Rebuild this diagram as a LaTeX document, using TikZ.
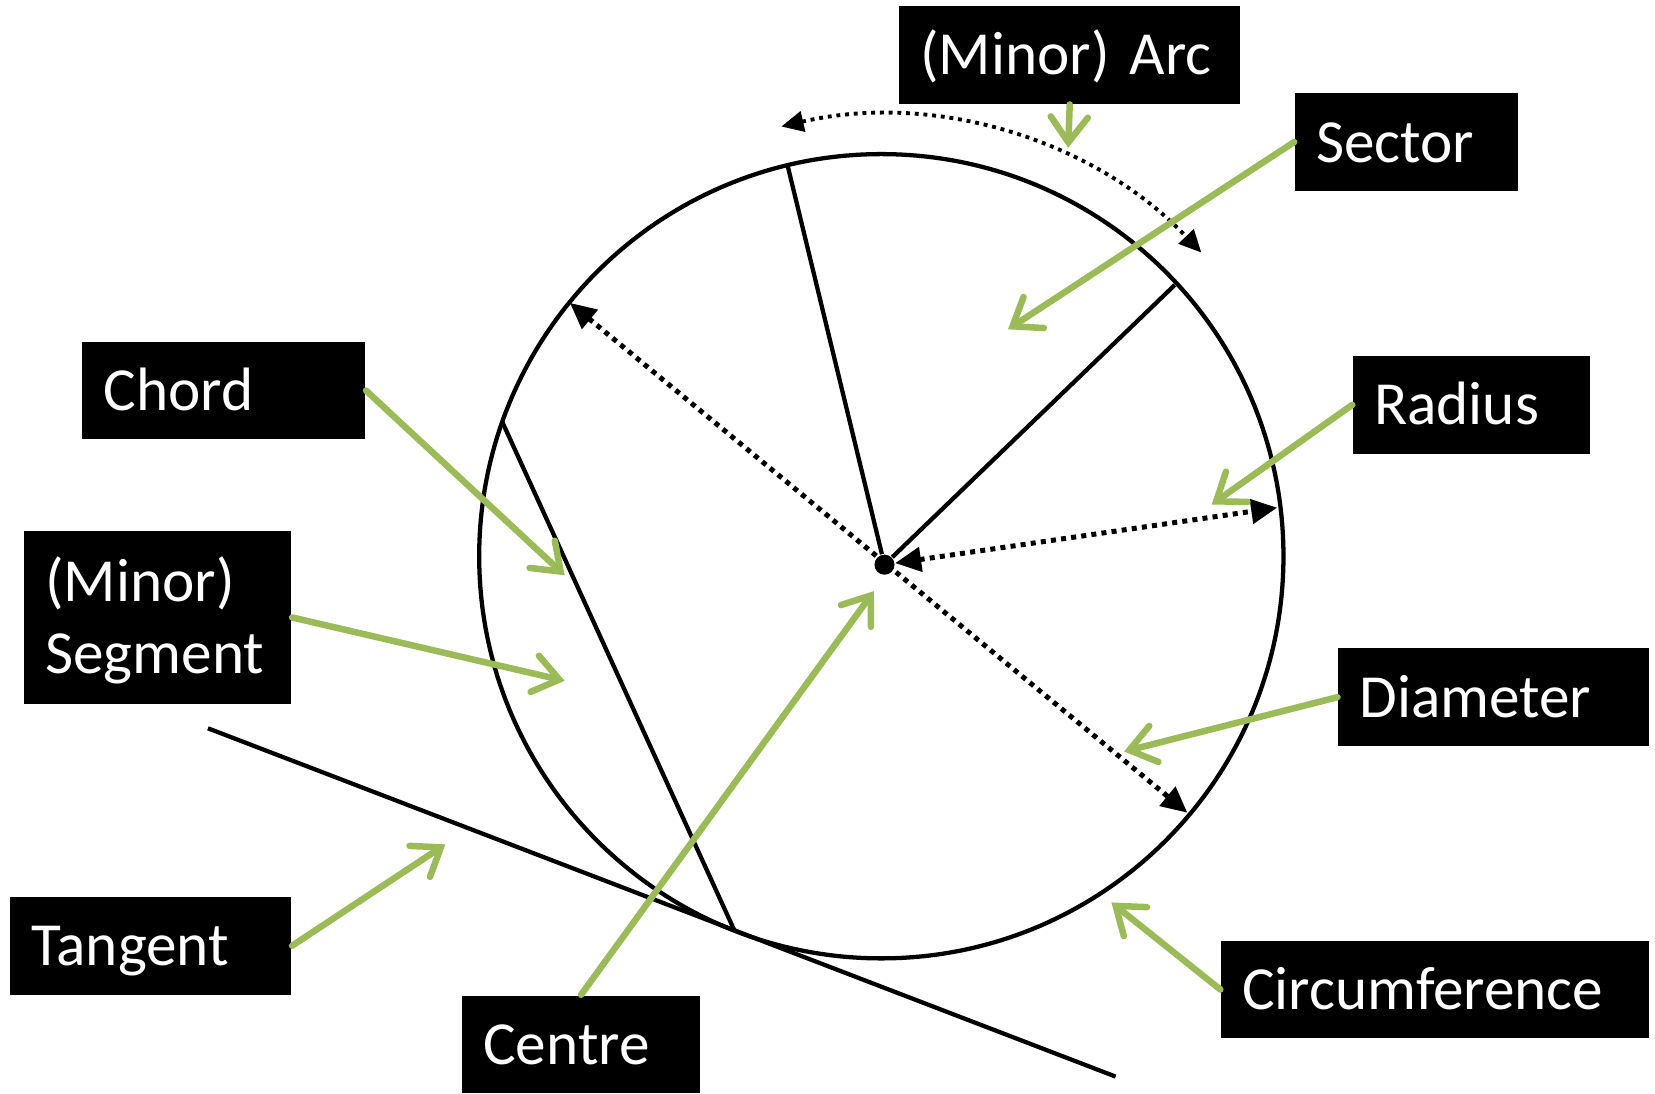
\documentclass[tikz,border=0pt]{standalone}
\usepackage{fontspec}
\setmainfont{Carlito}
\usetikzlibrary{arrows.meta}
\definecolor{lgreen}{HTML}{9BBB59}
\newcommand\lblfont{\fontsize{16.5pt}{19.35pt}\selectfont\spaceskip=0.18em plus 0.05em\relax}
\begin{document}
\begin{tikzpicture}[x=0.01cm,y=-0.01cm,
  lbl/.style={fill=black, text=white, font=\lblfont,
    inner xsep=0.2cm, inner ysep=0pt, align=left, minimum height=0.925cm,
    text height=10.8pt, text depth=0pt, text width=#1},
  garrow/.style={draw=lgreen, line width=1.75pt, line cap=round,
    -{Straight Barb[length=6.8pt, width=10pt, line cap=round]}},
  dotarrow/.style={line width=1.35pt, dash pattern=on 1.35pt off 1.4pt,
    {Triangle[length=7pt, width=6.5pt]}-{Triangle[length=7pt, width=6.5pt]}},
  arcdots/.style={line width=1.05pt, dash pattern=on 1.05pt off 1.3pt,
    {Triangle[length=6pt, width=5.5pt]}-{Triangle[length=6pt, width=5.5pt]}},
  solid line/.style={line width=1.15pt}
]
\useasboundingbox (0,0) rectangle (1568,1036);

% geometry
\coordinate (O) at (835,527);
\node[circle, fill=black, inner sep=0pt, minimum size=0.19cm] (c) at (838,535) {};
\coordinate (r1) at (746,156);
\coordinate (r2) at (1113,270);
\coordinate (ch1) at (476,400);
\coordinate (ch2) at (696,882);
\coordinate (t1) at (197,690);
\coordinate (t2) at (1057,1020);
\coordinate (d1) at (540,287);
\coordinate (d2) at (1125,770);
\coordinate (rp) at (1210,481);

\draw[solid line] (O) circle[radius=381];
\draw[solid line] (c) -- (r1);
\draw[solid line] (c) -- (r2);
\draw[solid line] (ch1) -- (ch2);
\draw[solid line] (t1) -- (t2);
\draw[dotarrow] (d1) -- (d2);
\draw[dotarrow] (c) -- (rp);
\draw[arcdots] (O) ++(-103.1:418) arc[start angle=-103.1, end angle=-43.5, radius=418];

% labels
\node[lbl=2.83cm] (arc) at (1013.5,52) {(Minor) Arc};
\node[lbl=1.71cm] (sector) at (1332.5,134.5) {Sector};
\node[lbl=2.28cm] (chord) at (212,370) {Chord};
\node[lbl=1.84cm] (radius) at (1394,383.5) {Radius};
\node[lbl=2.13cm, minimum height=1.64cm, text depth=19.35pt] (segment) at (149.5,585) {(Minor)\\Segment};
\node[lbl=2.54cm] (diameter) at (1415,660.5) {Diameter};
\node[lbl=2.26cm] (tangent) at (143,896) {Tangent};
\node[lbl=3.65cm] (circumference) at (1359.5,937.5) {Circumference};
\node[lbl=1.85cm] (centre) at (550.5,989.5) {Centre};

% green arrow heads
\coordinate (arcH) at (1012,140);
\coordinate (secH) at (955,312);
\coordinate (chH) at (535,545);
\coordinate (segH) at (535,645);
\coordinate (radH) at (1148,478);
\coordinate (diaH) at (1065,712);
\coordinate (tanH) at (422,800);
\coordinate (cenH) at (828,560);
\coordinate (cirH) at (1053,855);

\draw[garrow] (arc.south) -- (arcH);
\draw[garrow] (sector.west) -- (secH);
\draw[garrow] (chord.east) -- (chH);
\draw[garrow] (segment.east) -- (segH);
\draw[garrow] (radius.west) -- (radH);
\draw[garrow] (diameter.west) -- (diaH);
\draw[garrow] (tangent.east) -- (tanH);
\draw[garrow] (centre.north) -- (cenH);
\draw[garrow] (circumference.west) -- (cirH);
\end{tikzpicture}
\end{document}
